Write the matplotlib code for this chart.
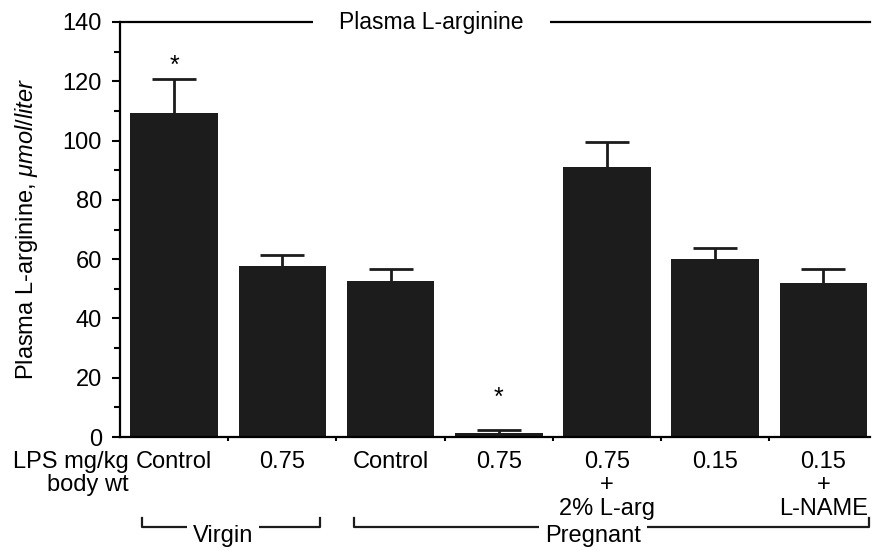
import matplotlib
matplotlib.use('Agg')
import matplotlib.pyplot as plt
import matplotlib.transforms as mtransforms
import numpy as np

plt.rcParams['font.family'] = ['Liberation Sans', 'DejaVu Sans']
plt.rcParams['mathtext.fontset'] = 'custom'
plt.rcParams['mathtext.rm'] = 'Liberation Sans'
plt.rcParams['mathtext.it'] = 'Liberation Sans:italic'

# data
groups = ['Control', '0.75', 'Control', '0.75', '0.75\n+\n2% L-arg', '0.15', '0.15\n+\nL-NAME']
values = [109.3, 57.7, 52.6, 1.3, 91.1, 60.0, 52.0]
errors = [11.5, 3.7, 4.1, 0.9, 8.4, 3.8, 4.7]
stars = [0, 3]
star_y = [125.3, 13.2]

fig = plt.figure(figsize=(8.72, 5.51), dpi=100)
ax = fig.add_axes([120 / 872, 114 / 551, 750 / 872, 415 / 551])

x = np.arange(len(values))
ax.bar(x, values, width=0.81, color='#1c1c1c', zorder=2)
_, caps, _ = ax.errorbar(x, values, yerr=[np.zeros(len(values)), errors], fmt='none',
                         ecolor='#1c1c1c', elinewidth=2, capsize=16, capthick=2,
                         zorder=3)
caps[0].set_visible(False)  # only the upper cap is drawn

for i, sy in zip(stars, star_y):
    ax.text(x[i], sy, '*', ha='center', va='center', fontsize=18)

ax.set_xlim(-0.5, 6.43)
ax.set_ylim(0, 140)
ax.set_yticks(np.arange(0, 141, 20))
ax.set_yticks(np.arange(10, 140, 20), minor=True)
ax.set_xticks(x[:-1] + 0.5)
ax.set_xticklabels([])
ax.tick_params(axis='y', which='major', length=6, width=1.5, labelsize=17, pad=7)
ax.tick_params(axis='y', which='minor', length=4, width=1.5)
ax.tick_params(axis='x', which='major', length=3, width=1.5)
ax.spines['right'].set_visible(False)
for s in ['left', 'bottom', 'top']:
    ax.spines[s].set_linewidth(1.6)

ax.text(-0.125, 0.5, 'Plasma L-arginine, $\\mathit{\\mu mol/liter}$',
        transform=ax.transAxes, rotation=90, ha='center', va='center',
        fontsize=17)

# title sitting on the top frame line
ax.text(0.415, 1.0, 'Plasma L-arginine', transform=ax.transAxes, ha='center',
        va='center', fontsize=16.5, zorder=5,
        bbox=dict(facecolor='white', edgecolor='none', pad=19))

# category labels under the bars
trans = mtransforms.blended_transform_factory(ax.transData, ax.transAxes)
for xi, g in zip(x, groups):
    ax.text(xi, -0.033, g, transform=trans, ha='center', va='top',
            fontsize=17, linespacing=1.1)
ax.text(0.011, -0.033, 'LPS mg/kg\nbody wt', transform=ax.transAxes,
        ha='right', va='top', fontsize=17, linespacing=1.1)

# group brackets
def bracket(x0, x1, label, xt):
    yl = -(527 - 437) / 415
    yt = -(518 - 437) / 415
    ax.plot([x0, x0, x1, x1], [yt, yl, yl, yt], transform=trans, color='#1c1c1c',
            lw=1.6, clip_on=False)
    ax.text(xt, yl + 0.005, label, transform=trans, ha='center', va='top',
            fontsize=17, zorder=5,
            bbox=dict(facecolor='white', edgecolor='none', pad=4))

bracket(-0.3, 1.35, 'Virgin', 0.45)
bracket(1.66, 6.42, 'Pregnant', 3.87)

fig.savefig('out.png', dpi=100)
